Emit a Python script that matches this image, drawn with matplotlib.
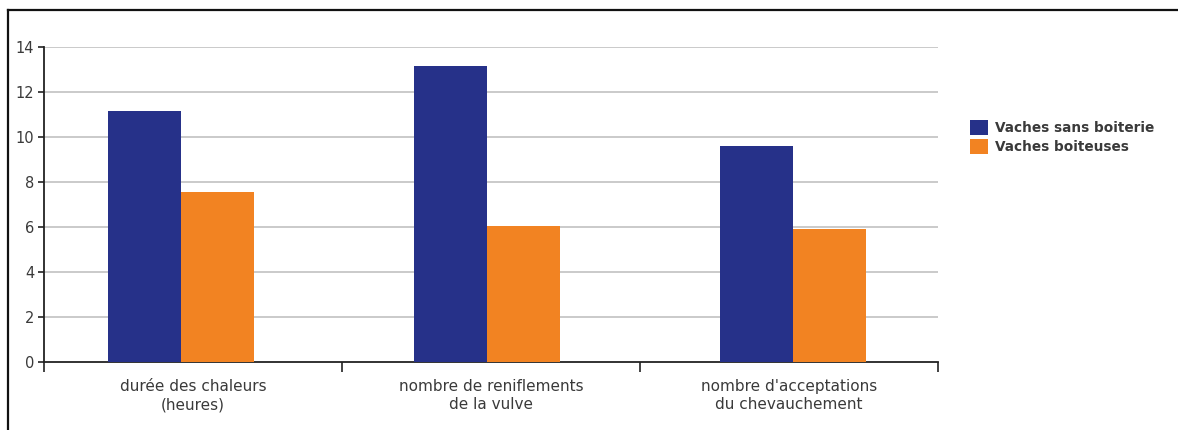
import matplotlib
matplotlib.use('Agg')
import matplotlib.pyplot as plt
import numpy as np
from matplotlib.lines import Line2D

categories = ['durée des chaleurs\n(heures)',
              'nombre de reniflements\nde la vulve',
              "nombre d'acceptations\ndu chevauchement"]
series_names = ['Vaches sans boiterie', 'Vaches boiteuses']
sans_boiterie = [11.15, 13.15, 9.6]
boiteuses = [7.55, 6.05, 5.9]
y_ticks = [0, 2, 4, 6, 8, 10, 12, 14]

bleu = '#263189'
orange = '#f28322'
texte = '#3a3a3a'

plt.rcParams['font.family'] = ['DejaVu Sans']

fig = plt.figure(figsize=(11.78, 4.30), dpi=100)
ax = fig.add_axes([44 / 1178, 1 - 362 / 430, (938 - 44) / 1178, (362 - 47) / 430])

x = np.arange(len(categories))
# les groupes de barres sont un peu plus espacés que les catégories
centres = [-0.04, 0.987, 2.013]
w = 0.245
ax.bar(np.array(centres) - w / 2, sans_boiterie, w, color=bleu, label=series_names[0], zorder=3)
ax.bar(np.array(centres) + w / 2, boiteuses, w, color=orange, label=series_names[1], zorder=3)

ax.set_xlim(-0.5, len(categories) - 0.5)
ax.set_ylim(0, 14)
ax.set_yticks(y_ticks)
ax.set_yticklabels([str(v) for v in y_ticks], fontsize=10.5, color=texte)
for v in y_ticks[1:]:
    ax.axhline(v, color='#c6c6c6', lw=1.3, zorder=1)

# ticks aux frontières des catégories, labels centrés
ax.set_xticks(np.arange(-0.5, len(categories), 1.0))
ax.set_xticklabels([])
ax.set_xticks(x, minor=True)
ax.set_xticklabels(categories, minor=True, fontsize=11, color=texte, linespacing=1.3)
ax.tick_params(axis='x', which='minor', length=0, pad=12)
ax.tick_params(axis='x', which='major', length=7, width=1.2, direction='out', color='#222222')
ax.tick_params(axis='y', length=4, width=1.2, direction='out', color='#222222', pad=3)

for s in ['top', 'right']:
    ax.spines[s].set_visible(False)
ax.spines['left'].set_linewidth(1.3)
ax.spines['bottom'].set_linewidth(1.3)
ax.spines['left'].set_color('#222222')
ax.spines['bottom'].set_color('#222222')

leg = fig.legend(loc='upper left', bbox_to_anchor=(958 / 1178, 1 - 108 / 430),
                 frameon=False, fontsize=9.8, handlelength=1.3, handleheight=1.3,
                 handletextpad=0.5, labelspacing=0.3)
for t in leg.get_texts():
    t.set_color(texte)
    t.set_fontweight('bold')

# cadre (haut et gauche seulement visibles)
fig.add_artist(Line2D([8 / 1178, 1.0], [1 - 10 / 430] * 2, color='#111111', lw=1.6))
fig.add_artist(Line2D([8 / 1178] * 2, [0, 1 - 10 / 430], color='#111111', lw=1.6))

fig.savefig('out.png', dpi=100)
